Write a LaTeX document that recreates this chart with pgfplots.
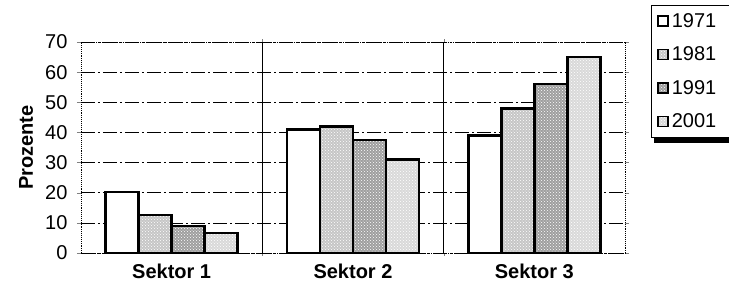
\documentclass[border=0pt]{standalone}
\usepackage{pgfplots}
\pgfplotsset{compat=1.18}
\usepackage{fontspec}
\setmainfont{Liberation Sans}
\usetikzlibrary{patterns}
\pgfplotstableread{
x y71 y81 y91 y01
0 20.3 12.6 9.0 6.6
1 41.0 42.0 37.5 31.0
2 39.0 48.0 56.0 65.0
}\datatable
\begin{document}
\begin{tikzpicture}
\useasboundingbox (0,0) rectangle (729pt,293pt);
\clip (0,0) rectangle (729pt,293pt);
\fill[black] (654pt,150pt) rectangle (740pt,155pt);
\begin{axis}[
  scale only axis, width=544pt, height=211pt,
  at={(81pt,40pt)}, anchor=south west,
  ybar=0pt, bar width=33pt,
  xmin=-0.5, xmax=2.5, ymin=0, ymax=70,
  xtick={0,1,2}, xticklabels={Sektor 1,Sektor 2,Sektor 3},
  xticklabel style={font=\fontsize{20}{20}\selectfont\bfseries, yshift=-3pt},
  major x tick style={draw=none},
  minor xtick={0.5,1.5}, xminorgrids,
  minor x grid style={black, line width=0.6pt},
  ytick={0,10,...,70},
  yticklabel={\fontsize{20}{20}\selectfont\pgfmathprintnumber{\tick}},
  yticklabel style={xshift=-6pt},
  /pgf/number format/assume math mode=true,
  ymajorgrids, major y grid style={black, line width=0.5pt, dash pattern=on 14pt off 3pt on 2pt off 3pt},
  tick align=outside, major tick length=4pt,
  axis line style={black, line width=0.9pt, densely dotted},
  ylabel={Prozente},
  ylabel style={font=\fontsize{20}{20}\selectfont\bfseries, at={(axis description cs:-0.101,0.5)}, anchor=center},
  legend style={at={(axis description cs:1.048,1.175)}, anchor=north west,
    draw=black, line width=0.6pt, fill=white,
    font=\fontsize{20}{20}\selectfont,
    text width=60pt, row sep=14pt, column sep=1pt, inner sep=6pt},
  legend image code/.code={\draw[#1, line width=1.4pt] (0pt,-5pt) rectangle (10pt,5pt);},
  legend cell align=left,
  clip=false,
]
\addplot[draw=black, line width=2.4pt, fill=white] table[x=x,y=y71] {\datatable};
\addplot[draw=black, line width=2.4pt, fill=gray!45, postaction={pattern=crosshatch dots, pattern color=white}] table[x=x,y=y81] {\datatable};
\addplot[draw=black, line width=2.4pt, fill=gray!75, postaction={pattern=crosshatch dots, pattern color=white}] table[x=x,y=y91] {\datatable};
\addplot[draw=black, line width=2.4pt, fill=gray!30, postaction={pattern=crosshatch dots, pattern color=white}] table[x=x,y=y01] {\datatable};
\legend{1971,1981,1991,2001}
\end{axis}
\end{tikzpicture}
\end{document}
